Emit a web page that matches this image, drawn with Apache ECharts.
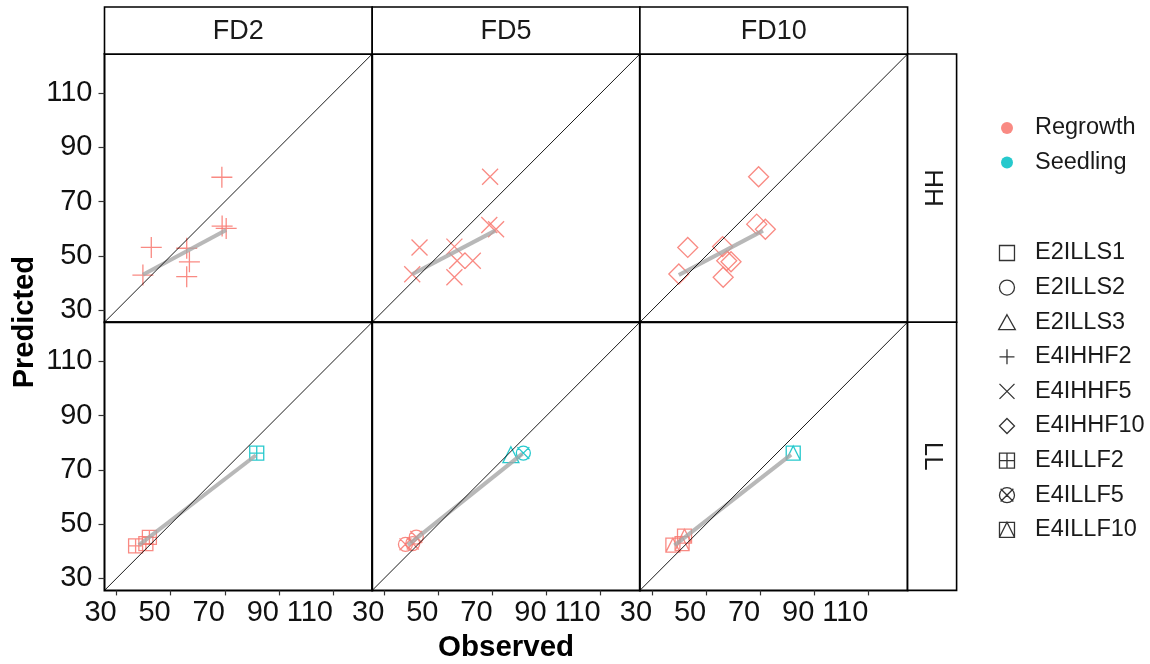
<!DOCTYPE html>
<html>
<head>
<meta charset="utf-8">
<script src="https://cdn.jsdelivr.net/npm/echarts@6/dist/echarts.min.js"></script>
<style>
  html, body { margin: 0; padding: 0; background: #fff; }
  #chart { width: 1150px; height: 664px; }
</style>
</head>
<body>
<div id="chart"></div>
<script>
// Facets, groups and sites
const colLabels = ['FD2', 'FD5', 'FD10'];
const rowLabels = ['HH', 'LL'];
const groupNames = ['Regrowth', 'Seedling'];
const siteNames = ['E2ILLS1', 'E2ILLS2', 'E2ILLS3', 'E4IHHF2', 'E4IHHF5', 'E4IHHF10', 'E4ILLF2', 'E4ILLF5', 'E4ILLF10'];
const tickValues = [30, 50, 70, 90, 110];
const axisRange = [25.5, 124.5];

// Points per panel: [observed, predicted, site, group]
const hhFD2 = [
  [68.9, 79.0, 'E4IHHF2', 'Regrowth'], [69.0, 61.0, 'E4IHHF2', 'Regrowth'],
  [70.5, 60.1, 'E4IHHF2', 'Regrowth'], [42.8, 53.1, 'E4IHHF2', 'Regrowth'],
  [55.9, 52.8, 'E4IHHF2', 'Regrowth'], [56.9, 47.8, 'E4IHHF2', 'Regrowth'],
  [55.9, 42.3, 'E4IHHF2', 'Regrowth'], [39.7, 42.9, 'E4IHHF2', 'Regrowth']
];
const hhFD5 = [
  [69.1, 79.2, 'E4IHHF5', 'Regrowth'], [68.8, 61.4, 'E4IHHF5', 'Regrowth'],
  [71.3, 59.8, 'E4IHHF5', 'Regrowth'], [43.0, 53.1, 'E4IHHF5', 'Regrowth'],
  [55.9, 53.4, 'E4IHHF5', 'Regrowth'], [56.9, 48.2, 'E4IHHF5', 'Regrowth'],
  [62.7, 48.2, 'E4IHHF5', 'Regrowth'], [55.9, 42.1, 'E4IHHF5', 'Regrowth'],
  [40.3, 43.2, 'E4IHHF5', 'Regrowth']
];
const hhFD10 = [
  [69.4, 79.2, 'E4IHHF10', 'Regrowth'], [68.7, 61.7, 'E4IHHF10', 'Regrowth'],
  [71.9, 59.8, 'E4IHHF10', 'Regrowth'], [43.2, 53.1, 'E4IHHF10', 'Regrowth'],
  [56.1, 53.4, 'E4IHHF10', 'Regrowth'], [57.6, 48.2, 'E4IHHF10', 'Regrowth'],
  [59.2, 47.8, 'E4IHHF10', 'Regrowth'], [56.3, 42.1, 'E4IHHF10', 'Regrowth'],
  [39.9, 43.3, 'E4IHHF10', 'Regrowth']
];
const llFD2 = [
  [37.0, 41.9, 'E4ILLF2', 'Regrowth'], [42.1, 45.1, 'E4ILLF2', 'Regrowth'],
  [40.8, 42.8, 'E4ILLF2', 'Regrowth'], [81.8, 76.2, 'E4ILLF2', 'Seedling']
];
const llFD5 = [
  [37.8, 42.5, 'E4ILLF5', 'Regrowth'], [41.8, 45.2, 'E4ILLF5', 'Regrowth'],
  [40.5, 42.8, 'E4ILLF5', 'Regrowth'], [76.8, 75.6, 'E2ILLS3', 'Seedling'],
  [81.4, 76.2, 'E4ILLF5', 'Seedling']
];
const llFD10 = [
  [37.7, 42.2, 'E4ILLF10', 'Regrowth'], [42.0, 45.5, 'E4ILLF10', 'Regrowth'],
  [41.1, 42.8, 'E4ILLF10', 'Regrowth'], [82.2, 76.2, 'E4ILLF10', 'Seedling']
];

// Smoothed trend per panel: [[observed, predicted] start, end]
const trendHH_FD2 = [[39.7, 43.0], [70.5, 59.5]];
const trendHH_FD5 = [[40.3, 43.2], [71.0, 59.3]];
const trendHH_FD10 = [[39.9, 42.9], [71.0, 59.3]];
const trendLL_FD2 = [[38.2, 42.2], [81.5, 75.4]];
const trendLL_FD5 = [[38.7, 42.2], [81.1, 76.0]];
const trendLL_FD10 = [[38.3, 42.1], [81.4, 75.6]];

// ---- styling ----
const FONT = '"Liberation Sans", Arial, sans-serif';
const groupColors = { Regrowth: '#F8766D', Seedling: '#00BFC4' };
const SQ = 'M0,0H20V20H0Z';
const siteSymbols = {
  E2ILLS1: 'path://' + SQ,
  E2ILLS2: 'path://M20,10A10,10,0,1,1,0,10A10,10,0,1,1,20,10Z',
  E2ILLS3: 'path://M10,0L20,18L0,18Z',
  E4IHHF2: 'path://M10,0V20M0,10H20',
  E4IHHF5: 'path://M0,0L20,20M20,0L0,20',
  E4IHHF10: 'path://M10,0L20,10L10,20L0,10Z',
  E4ILLF2: 'path://' + SQ + 'M10,0V20M0,10H20',
  E4ILLF5: 'path://M20,10A10,10,0,1,1,0,10A10,10,0,1,1,20,10ZM1.5,1.5L18.5,18.5M18.5,1.5L1.5,18.5',
  E4ILLF10: 'path://' + SQ + 'M0,20L10,0L20,20'
};
const siteSizes = {
  E2ILLS1: 14, E2ILLS2: 14, E2ILLS3: 16, E4IHHF2: 21, E4IHHF5: 16,
  E4IHHF10: 20, E4ILLF2: 14, E4ILLF5: 14, E4ILLF10: 14
};

const L0 = 104.5, W = 267.7, T0 = 54, H = 268.2;
const stripTop = 7, stripRightW = 49;

const panels = [
  { r: 0, c: 0, pts: hhFD2, trend: trendHH_FD2 },
  { r: 0, c: 1, pts: hhFD5, trend: trendHH_FD5 },
  { r: 0, c: 2, pts: hhFD10, trend: trendHH_FD10 },
  { r: 1, c: 0, pts: llFD2, trend: trendLL_FD2 },
  { r: 1, c: 1, pts: llFD5, trend: trendLL_FD5 },
  { r: 1, c: 2, pts: llFD10, trend: trendLL_FD10 }
];

const grids = [], xAxes = [], yAxes = [], series = [];
const labelStyle = { fontFamily: FONT, fontSize: 29, color: '#111' };

panels.forEach((p, i) => {
  grids.push({
    left: L0 + p.c * W, top: T0 + p.r * H, width: W, height: H,
    show: true, backgroundColor: '#fff', borderColor: '#000', borderWidth: 2,
    containLabel: false, outerBoundsMode: 'none'
  });
  const bottomRow = p.r === 1, leftCol = p.c === 0;
  xAxes.push({
    gridIndex: i, type: 'value', min: axisRange[0], max: axisRange[1],
    axisLine: { show: false }, splitLine: { show: false },
    axisTick: { show: bottomRow, customValues: tickValues, length: 5, lineStyle: { color: '#333', width: 1.2 } },
    axisLabel: Object.assign({ show: bottomRow, customValues: tickValues, align: 'right', margin: 8 }, labelStyle)
  });
  yAxes.push({
    gridIndex: i, type: 'value', min: axisRange[0], max: axisRange[1],
    axisLine: { show: false }, splitLine: { show: false },
    axisTick: { show: leftCol, customValues: tickValues, length: 6, lineStyle: { color: '#333', width: 1.2 } },
    axisLabel: Object.assign({ show: leftCol, customValues: tickValues, margin: 12 }, labelStyle)
  });

  groupNames.forEach(g => {
    const items = p.pts.filter(d => d[3] === g).map(d => ({
      value: [d[0], d[1]],
      symbol: siteSymbols[d[2]],
      symbolSize: siteSizes[d[2]]
    }));
    if (!items.length) return;
    series.push({
      type: 'scatter', name: g, xAxisIndex: i, yAxisIndex: i, data: items,
      itemStyle: { color: 'transparent', borderColor: groupColors[g], borderWidth: 1.3, opacity: 0.85 },
      emphasis: { disabled: true }, z: 2
    });
  });

  series.push({
    type: 'line', xAxisIndex: i, yAxisIndex: i, data: p.trend,
    symbol: 'none', silent: true,
    lineStyle: { color: '#a6a6a6', width: 4, opacity: 0.8 }, z: 3
  });
  series.push({
    type: 'line', xAxisIndex: i, yAxisIndex: i,
    data: [[axisRange[0], axisRange[0]], [axisRange[1], axisRange[1]]],
    symbol: 'none', silent: true, clip: true,
    lineStyle: { color: '#000', width: 0.9 }, z: 4
  });
});

// legend-only entries for the site shapes
siteNames.forEach(s => {
  series.push({ type: 'scatter', name: s, xAxisIndex: 0, yAxisIndex: 0, data: [] });
});

const graphics = [];
colLabels.forEach((lab, c) => {
  graphics.push({
    type: 'rect', z: 10,
    shape: { x: L0 + c * W, y: stripTop, width: W, height: T0 - stripTop },
    style: { fill: '#fff', stroke: '#000', lineWidth: 1.6 }
  });
  graphics.push({
    type: 'text', z: 11, x: L0 + c * W + W / 2, y: (stripTop + T0) / 2 + 1,
    style: { text: lab, fontFamily: FONT, fontSize: 27, fill: '#1a1a1a', align: 'center', verticalAlign: 'middle' }
  });
});
rowLabels.forEach((lab, r) => {
  const x0 = L0 + 3 * W;
  graphics.push({
    type: 'rect', z: 10,
    shape: { x: x0, y: T0 + r * H, width: stripRightW, height: H },
    style: { fill: '#fff', stroke: '#000', lineWidth: 1.6 }
  });
  graphics.push({
    type: 'text', z: 11, x: x0 + stripRightW / 2, y: T0 + r * H + H / 2, rotation: -Math.PI / 2,
    style: { text: lab, fontFamily: FONT, fontSize: 26, fill: '#1a1a1a', align: 'center', verticalAlign: 'middle' }
  });
});
graphics.push({
  type: 'text', x: 25, y: T0 + H, rotation: Math.PI / 2,
  style: { text: 'Predicted', fontFamily: FONT, fontWeight: 'bold', fontSize: 29, fill: '#000', align: 'center', verticalAlign: 'middle' }
});
graphics.push({
  type: 'text', x: L0 + 1.5 * W, y: 648,
  style: { text: 'Observed', fontFamily: FONT, fontWeight: 'bold', fontSize: 29.5, fill: '#000', align: 'center', verticalAlign: 'middle' }
});

const legendText = { fontFamily: FONT, fontSize: 23.5, color: '#1a1a1a', lineHeight: 20 };

const chart = echarts.init(document.getElementById('chart'), null, { renderer: 'canvas' });
chart.setOption({
  animation: false,
  backgroundColor: '#fff',
  grid: grids,
  xAxis: xAxes,
  yAxis: yAxes,
  series: series,
  graphic: graphics,
  legend: [
    {
      orient: 'vertical', left: 996, top: 111, itemWidth: 46, itemHeight: 12, itemGap: 10.5,
      selectedMode: false, textStyle: legendText,
      data: groupNames.map(g => ({ name: g, icon: 'circle', itemStyle: { color: groupColors[g], borderWidth: 0 } }))
    },
    {
      orient: 'vertical', left: 993, top: 236, itemWidth: 46, itemHeight: 15, itemGap: 10.6,
      selectedMode: false, textStyle: legendText,
      data: siteNames.map(s => ({
        name: s, icon: siteSymbols[s],
        itemStyle: { color: 'transparent', borderColor: '#000', borderWidth: 1.3 }
      }))
    }
  ]
});
</script>
</body>
</html>
